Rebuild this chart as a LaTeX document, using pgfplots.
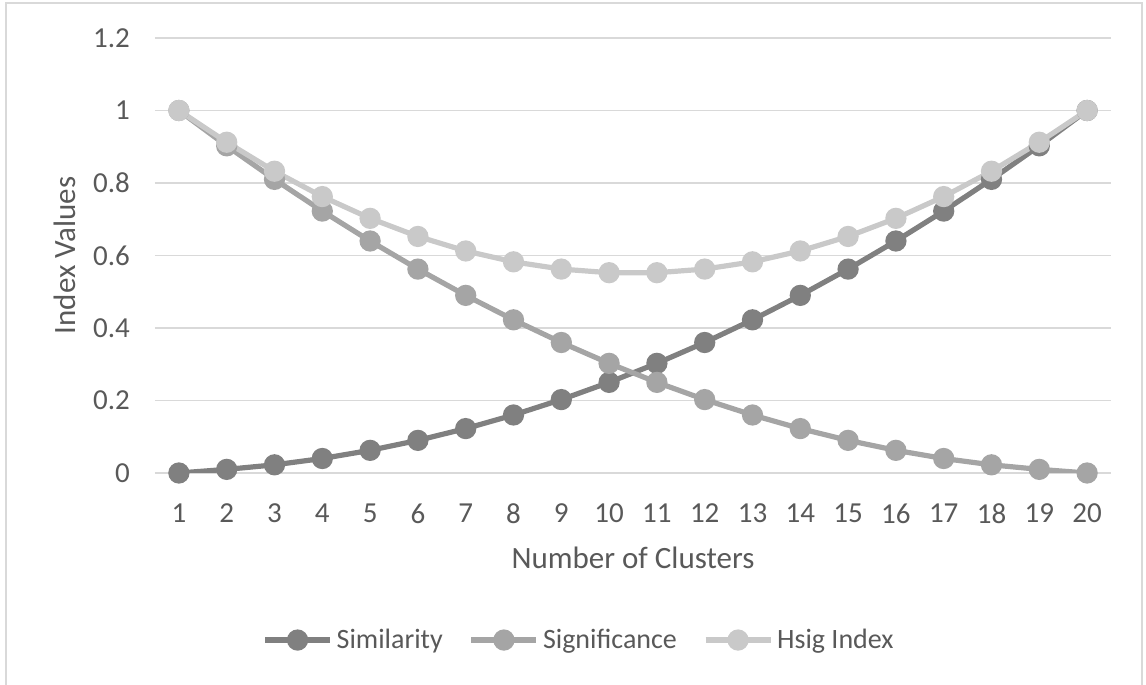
\documentclass[border=0pt]{standalone}
\usepackage{pgfplots}
\pgfplotsset{compat=1.18}
\usepackage{fontspec}
\setmainfont{Carlito}
\definecolor{simc}{HTML}{808080}
\definecolor{sigc}{HTML}{A5A5A5}
\definecolor{hsigc}{HTML}{C9C9C9}
\definecolor{txt}{HTML}{595959}
\definecolor{gridc}{HTML}{D9D9D9}
\begin{document}
\begin{tikzpicture}
\path[use as bounding box] (0,0) rectangle (573pt,342.5pt);
\draw[gridc, line width=1pt] (3pt,0) -- (3pt,341pt) -- (571pt,341pt) -- (571pt,0);
\begin{axis}[
  at={(77.5pt,106pt)}, anchor=south west,
  scale only axis, width=478pt, height=217.5pt,
  xmin=0.5, xmax=20.5, ymin=0, ymax=1.2,
  xtick={1,...,20}, ytick={0,0.2,...,1.2},
  yticklabels={0,0.2,0.4,0.6,0.8,1,1.2},
  axis line style={draw=none},
  major tick length=0pt,
  ymajorgrids, grid style={gridc, line width=0.6pt},
  font=\fontsize{14.5}{16}\selectfont, text=txt,
  /pgf/number format/assume math mode=true,
  xticklabel style={yshift=-12pt},
  yticklabel style={xshift=-9pt},
  xlabel={Number of Clusters}, ylabel={Index Values},
  xlabel style={at={(rel axis cs:0.5,-0.195)}, anchor=center, font=\fontsize{15.5}{17}\selectfont},
  ylabel style={at={(rel axis cs:-0.0941,0.5)}, anchor=center, font=\fontsize{15.5}{17}\selectfont},
  legend style={at={(rel axis cs:0.4446,-0.384)}, anchor=center, draw=none, legend columns=3, font=\fontsize{14}{16}\selectfont, /tikz/every even column/.append style={column sep=11pt}},
  legend image code/.code={\draw[mark repeat=2,mark phase=2,#1] plot coordinates {(0pt,0pt) (16.25pt,0pt) (32.5pt,0pt)};},
  every axis plot/.append style={line width=2.6pt, mark=*, mark size=4pt, mark options={line width=0pt}},
]
\addplot[simc, mark options={fill=simc, draw=simc}] coordinates {
(1,0) (2,0.01) (3,0.0225) (4,0.04) (5,0.0625) (6,0.09) (7,0.1225) (8,0.16) (9,0.2025) (10,0.25)
(11,0.3025) (12,0.36) (13,0.4225) (14,0.49) (15,0.5625) (16,0.64) (17,0.7225) (18,0.81) (19,0.9025) (20,1)};
\addlegendentry{Similarity}
\addplot[sigc, mark options={fill=sigc, draw=sigc}] coordinates {
(1,1) (2,0.9025) (3,0.81) (4,0.7225) (5,0.64) (6,0.5625) (7,0.49) (8,0.4225) (9,0.36) (10,0.3025)
(11,0.25) (12,0.2025) (13,0.16) (14,0.1225) (15,0.09) (16,0.0625) (17,0.04) (18,0.0225) (19,0.01) (20,0)};
\addlegendentry{Significance}
\addplot[hsigc, mark options={fill=hsigc, draw=hsigc}] coordinates {
(1,1) (2,0.9125) (3,0.8325) (4,0.7625) (5,0.7025) (6,0.6525) (7,0.6125) (8,0.5825) (9,0.5625) (10,0.5525)
(11,0.5525) (12,0.5625) (13,0.5825) (14,0.6125) (15,0.6525) (16,0.7025) (17,0.7625) (18,0.8325) (19,0.9125) (20,1)};
\addlegendentry{Hsig Index}
\end{axis}
\end{tikzpicture}
\end{document}
